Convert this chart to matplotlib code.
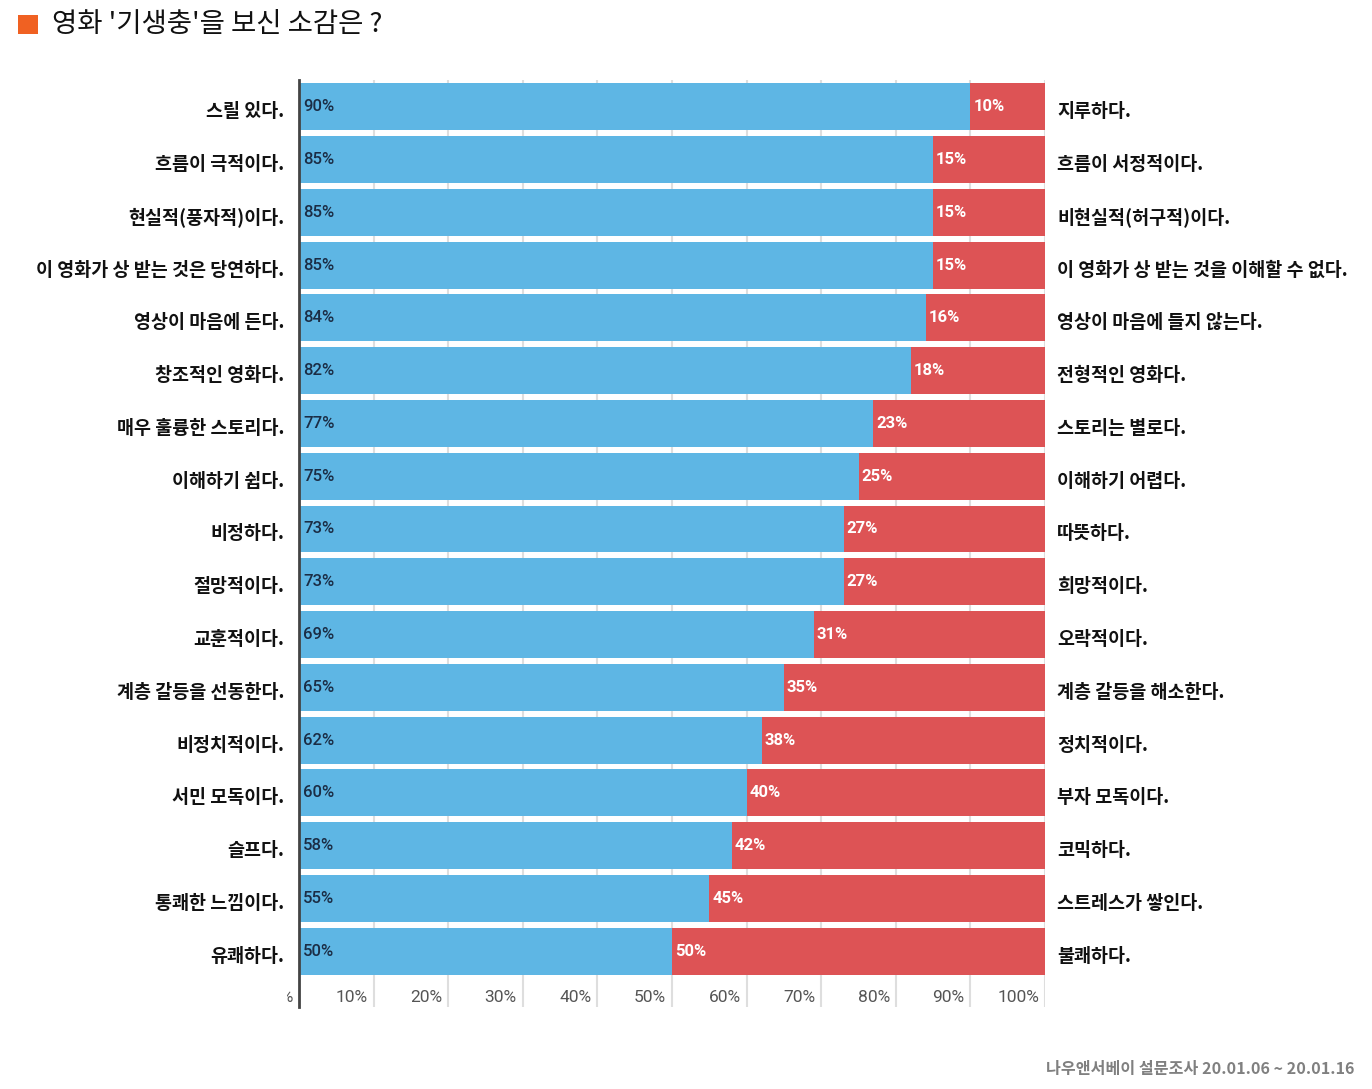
import matplotlib
matplotlib.use("Agg")
import matplotlib.pyplot as plt
from matplotlib.transforms import Bbox, TransformedBbox

left_labels = ["스릴 있다.", "흐름이 극적이다.", "현실적(풍자적)이다.", "이 영화가 상 받는 것은 당연하다.",
               "영상이 마음에 든다.", "창조적인 영화다.", "매우 훌륭한 스토리다.", "이해하기 쉽다.",
               "비정하다.", "절망적이다.", "교훈적이다.", "계층 갈등을 선동한다.", "비정치적이다.",
               "서민 모독이다.", "슬프다.", "통쾌한 느낌이다.", "유쾌하다."]
right_labels = ["지루하다.", "흐름이 서정적이다.", "비현실적(허구적)이다.", "이 영화가 상 받는 것을 이해할 수 없다.",
                "영상이 마음에 들지 않는다.", "전형적인 영화다.", "스토리는 별로다.", "이해하기 어렵다.",
                "따뜻하다.", "희망적이다.", "오락적이다.", "계층 갈등을 해소한다.", "정치적이다.",
                "부자 모독이다.", "코믹하다.", "스트레스가 쌓인다.", "불쾌하다."]
left_values = [90, 85, 85, 85, 84, 82, 77, 75, 73, 73, 69, 65, 62, 60, 58, 55, 50]
right_values = [10, 15, 15, 15, 16, 18, 23, 25, 27, 27, 31, 35, 38, 40, 42, 45, 50]
tick_values = [0, 10, 20, 30, 40, 50, 60, 70, 80, 90, 100]
tick_labels = ["0%", "10%", "20%", "30%", "40%", "50%", "60%", "70%", "80%", "90%", "100%"]

title = "영화 '기생충'을 보신 소감은 ?"
source = "나우앤서베이 설문조사 20.01.06 ~ 20.01.16"

W, H = 1372, 1089
fig = plt.figure(figsize=(W / 100, H / 100), dpi=100)
fig.patch.set_facecolor("white")

ax_l, ax_r, ax_t, ax_b = 299, 1045, 80, 1007
ax = fig.add_axes([ax_l / W, 1 - ax_b / H, (ax_r - ax_l) / W, (ax_b - ax_t) / H])

kr = ["Noto Sans CJK KR", "DejaVu Sans"]
num = ["Roboto", "DejaVu Sans"]

blue = "#5eb6e4"
red = "#dd5355"
n = len(left_values)
ys = list(range(n))

for x in tick_values[1:]:
    ax.axvline(x, color="#dedede", lw=1.5, zorder=0)

ax.barh(ys, left_values, height=0.89, color=blue, zorder=2)
ax.barh(ys, right_values, left=left_values, height=0.89, color=red, zorder=2)

ax.set_xlim(0, 100)
ax.set_ylim(17.06, -0.51)
ax.set_xticks([])
ax.set_yticks([])
for s in ["top", "right", "bottom"]:
    ax.spines[s].set_visible(False)
ax.spines["left"].set_color("#444444")
ax.spines["left"].set_linewidth(2)

for i in range(n):
    ax.annotate(f"{left_values[i]}%", (0, i), xytext=(4, 0), textcoords="offset pixels",
                ha="left", va="center", fontsize=12, family=num, fontweight=500, color="#1b2d45", zorder=3)
    ax.annotate(f"{right_values[i]}%", (left_values[i], i), xytext=(3, 0), textcoords="offset pixels",
                ha="left", va="center", fontsize=12, family=num, fontweight="bold", color="white", zorder=3)
    ax.annotate(left_labels[i], (0, i), xytext=(-15, -5), textcoords="offset pixels",
                ha="right", va="center", fontsize=13.3, family=kr, fontweight="bold", color="#111111",
                annotation_clip=False)
    ax.annotate(right_labels[i], (100, i), xytext=(12, -5), textcoords="offset pixels",
                ha="left", va="center", fontsize=13.3, family=kr, fontweight="bold", color="#111111",
                annotation_clip=False)

clipbox = TransformedBbox(Bbox([[287 / W, 0], [1, 1]]), fig.transFigure)
for x, lab in zip(tick_values, tick_labels):
    t = ax.annotate(lab, (x, 1 - 997 / H), xycoords=("data", "figure fraction"), xytext=(-6, 0),
                    textcoords="offset pixels", ha="right", va="center", fontsize=12.5,
                    family=num, color="#555555", annotation_clip=False)
    t.set_clip_box(clipbox)
    t.set_clip_on(True)

fig.patches.append(plt.Rectangle((18 / W, 1 - 34 / H), 20 / W, 19 / H, transform=fig.transFigure,
                                 facecolor="#f06122", edgecolor="none"))
fig.text(52 / W, 1 - 24 / H, title, ha="left", va="center", fontsize=19.8, family=kr, color="#111111")
fig.text(1354 / W, 1 - 1069 / H, source, ha="right", va="center", fontsize=11.6, family=kr,
         fontweight="bold", color="#808080")

fig.savefig("out.png", dpi=100, facecolor="white")
